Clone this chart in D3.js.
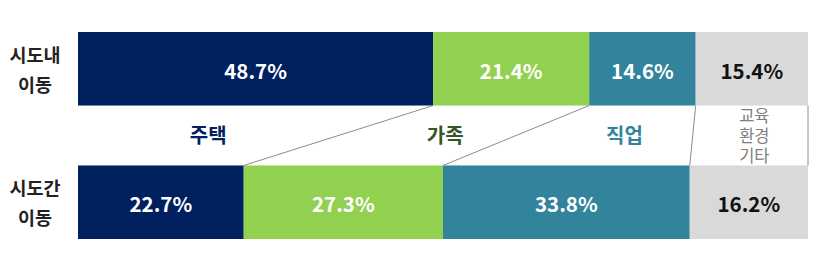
<!DOCTYPE html>
<html>
<head>
<meta charset="utf-8">
<script src="https://cdn.jsdelivr.net/npm/d3@7"></script>
<style>
  body { margin: 0; background: #fff; }
  text { font-family: "Noto Sans CJK KR", "Noto Sans", sans-serif; }
</style>
</head>
<body>
<script>
// 데이터
var categories = ['주택', '가족', '직업', '교육\n환경\n기타'];
var groups = ['시도내\n이동', '시도간\n이동'];
var intraValues = [48.7, 21.4, 14.6, 15.4];
var interValues = [22.7, 27.3, 33.8, 16.2];

var width = 821;
var height = 256;

var barColors = ['#002060', '#92D050', '#31849B', '#D9D9D9'];
var valueColors = ['#ffffff', '#ffffff', '#ffffff', '#111111'];
var catColors = ['#002060', '#375623', '#31849B', '#7f7f7f'];

var svg = d3.select('body')
  .append('svg')
  .attr('width', width)
  .attr('height', height);

var rows = [intraValues, interValues];

var yScale = d3.scaleBand()
  .domain(groups)
  .range([32, 239])
  .paddingInner(0.449);

// 각 행의 누적 구간
function stackRow(values) {
  var x = d3.scaleLinear()
    .domain([0, d3.sum(values)])
    .range([78, 808]);
  var acc = 0;
  return values.map(function (v, i) {
    var seg = { x0: x(acc), x1: x(acc + v), value: v, i: i };
    acc += v;
    return seg;
  });
}

var stacked = rows.map(stackRow);

stacked.forEach(function (segs, r) {
  var g = svg.append('g').attr('class', 'row-' + r);
  var y = yScale(groups[r]);

  g.selectAll('rect')
    .data(segs)
    .enter()
    .append('rect')
    .attr('x', function (d) { return d.x0; })
    .attr('y', y)
    .attr('width', function (d) { return d.x1 - d.x0; })
    .attr('height', yScale.bandwidth())
    .attr('fill', function (d) { return barColors[d.i]; });

  g.selectAll('text.value')
    .data(segs)
    .enter()
    .append('text')
    .attr('class', 'value')
    .attr('x', function (d) { return (d.x0 + d.x1) / 2; })
    .attr('y', y + yScale.bandwidth() / 2 + 1)
    .attr('text-anchor', 'middle')
    .attr('dominant-baseline', 'central')
    .attr('font-size', 20.5)
    .attr('font-weight', 'bold')
    .attr('fill', function (d) { return valueColors[d.i]; })
    .text(function (d) { return d.value.toFixed(1) + '%'; });

  // 행 라벨
  var lines = groups[r].split('\n');
  var cy = y + yScale.bandwidth() / 2;
  svg.append('g')
    .selectAll('text')
    .data(lines)
    .enter()
    .append('text')
    .attr('x', 35)
    .attr('y', function (d, i) { return cy + (i - (lines.length - 1) / 2) * 30; })
    .attr('text-anchor', 'middle')
    .attr('dominant-baseline', 'central')
    .attr('font-size', 18.5)
    .attr('font-weight', 'bold')
    .attr('fill', '#222')
    .text(function (d) { return d; });
});

// 연결선
var topY = yScale(groups[0]) + yScale.bandwidth();
var botY = yScale(groups[1]);
var upper = stacked[0], lower = stacked[1];

var links = upper.map(function (d, i) {
  return { x0: d.x1, x1: lower[i].x1 };
});

svg.append('g')
  .selectAll('line')
  .data(links)
  .enter()
  .append('line')
  .attr('x1', function (d) { return d.x0; })
  .attr('y1', topY)
  .attr('x2', function (d) { return d.x1; })
  .attr('y2', botY)
  .attr('stroke', '#8c8c8c')
  .attr('stroke-width', 1);

// 범주 라벨 (사다리꼴 중앙)
var nudge = [0, 18, 20, 4];
var midY = (topY + botY) / 2;
categories.forEach(function (c, i) {
  var left = (upper[i].x0 + lower[i].x0) / 2;
  var right = (upper[i].x1 + lower[i].x1) / 2;
  var cx = (left + right) / 2 + nudge[i];
  var lines = c.split('\n');
  var multi = lines.length > 1;
  svg.append('g')
    .selectAll('text')
    .data(lines)
    .enter()
    .append('text')
    .attr('x', cx)
    .attr('y', function (d, k) { return midY + (k - (lines.length - 1) / 2) * 20 - (multi ? 1 : 1); })
    .attr('text-anchor', 'middle')
    .attr('dominant-baseline', 'central')
    .attr('font-size', multi ? 16.5 : 20)
    .attr('font-weight', multi ? 'normal' : 'bold')
    .attr('fill', catColors[i])
    .text(function (d) { return d; });
});
</script>
</body>
</html>
